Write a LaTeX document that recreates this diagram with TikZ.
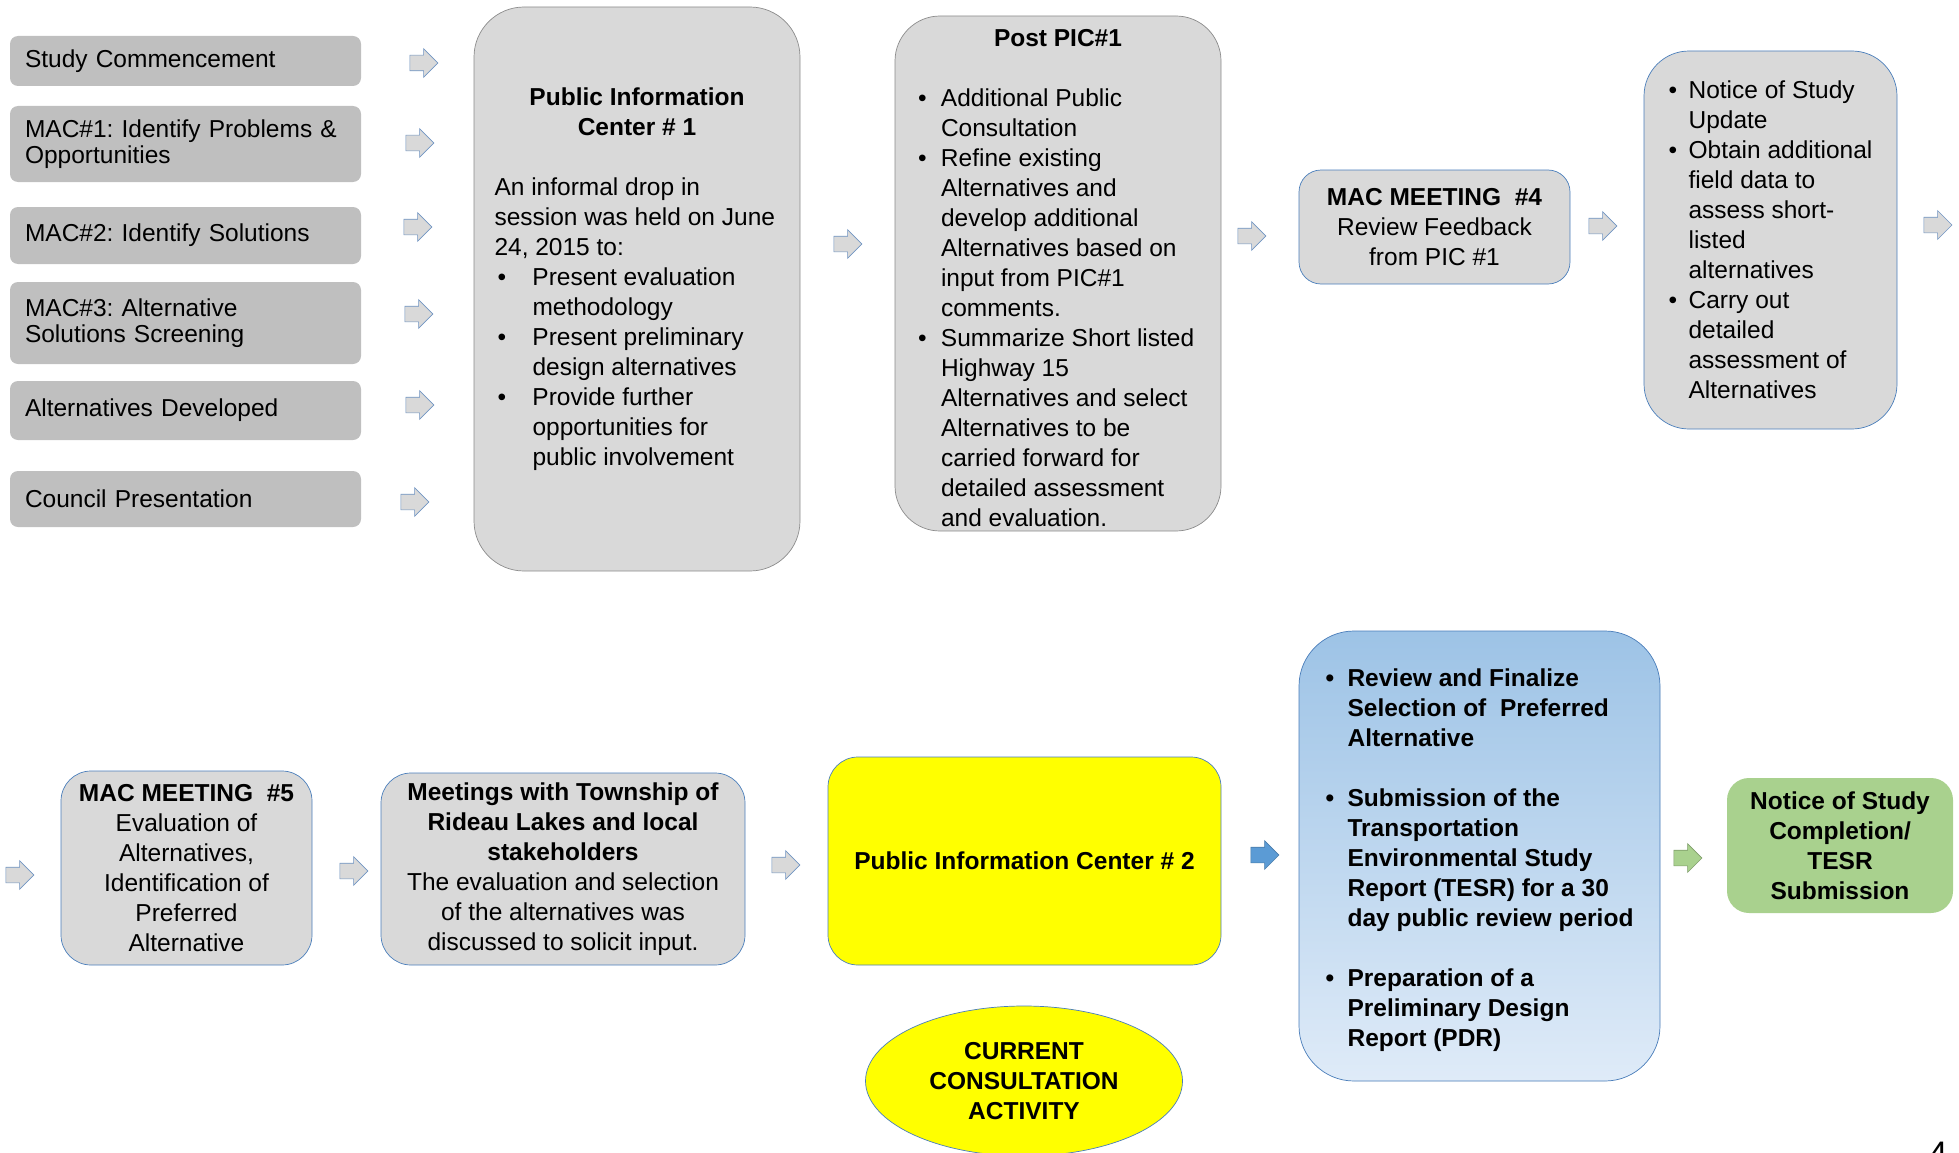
\documentclass[tikz,border=0pt]{standalone}
\usepackage{fontspec}
\setmainfont{Liberation Sans}
\usepackage{xcolor}
\usetikzlibrary{shapes,arrows,positioning,calc}
\frenchspacing

\definecolor{boxgray}{HTML}{D9D9D9}
\definecolor{stagegray}{HTML}{BFBFBF}
\definecolor{edgegray}{HTML}{8C8C8C}
\definecolor{edgeblue}{HTML}{4A7EBB}
\definecolor{arrowedge}{HTML}{7094C2}
\definecolor{picyellow}{HTML}{FFFF00}
\definecolor{shadetop}{HTML}{9DC3E6}
\definecolor{shadebot}{HTML}{DFEBF8}
\definecolor{arrowblue}{HTML}{5B9BD5}
\definecolor{tesrgreen}{HTML}{A9D18E}

% bullet with a hanging gap, and the matching indent for follow-on lines
\newcommand{\bul}[1]{\makebox[#1][l]{\textbullet}}
\newcommand{\ind}[1]{\hspace*{#1}}

\begin{document}
\begin{tikzpicture}[x=1pt, y=-1pt]
\tikzset{
stage/.style    = {fill=stagegray, rounded corners=8pt, minimum width=351pt, text width=321pt, inner xsep=15pt, inner ysep=0pt, align=left, font=\fontsize{24.5}{25.5}\selectfont},
block/.style    = {draw, fill=boxgray, line width=0.7pt, align=center, inner sep=0pt, font=\fontsize{24.5}{30}\selectfont},
grayblock/.style= {block, draw=edgegray},
blueblock/.style= {block, draw=edgeblue},
arr/.style      = {single arrow, draw=arrowedge, fill=boxgray, line width=0.6pt, inner xsep=0pt, inner ysep=7.5pt, minimum height=28pt, single arrow head extend=6.5pt},
}
\useasboundingbox (0,0) rectangle (1959,1153);
\clip (0,0) rectangle (1959,1153);

    % Stage nodes
    \node [stage, minimum height=50pt] (study)   at (185.5,61)  {Study Commencement};
    \node [stage, minimum height=76pt] (mac_one) at (185.5,144) {MAC\#1: Identify Problems \&\\Opportunities};
    \node [stage, minimum height=57pt] (mac_two) at (185.5,235.5) {MAC\#2: Identify Solutions};
    \node [stage, minimum height=82pt] (mac_three) at (185.5,323) {MAC\#3: Alternative\\Solutions Screening};
    \node [stage, minimum height=59pt] (alt_dev) at (185.5,410.5) {Alternatives Developed};
    \node [stage, minimum height=56pt] (council) at (185.5,499) {Council Presentation};

    % Stage arrows
    \node [arr] (a_study)     at (420,63)  {};
    \node [arr] (a_mac_one)   at (416,143) {};
    \node [arr] (a_mac_two)   at (414,227) {};
    \node [arr] (a_mac_three) at (415,314) {};
    \node [arr] (a_alt_dev)   at (416,405) {};
    \node [arr] (a_council)   at (411,502) {};

    % Top row nodes
    \node [grayblock, rounded corners=50pt, minimum width=326pt, minimum height=564pt, align=left] (pic_one) at (637,289)
        {\rule{0pt}{23pt}\makebox[285pt][c]{\bfseries Public Information}\\
         \makebox[285pt][c]{\bfseries Center \# 1}\\[30pt]
         An informal drop in\\
         session was held on June\\
         24, 2015 to:\\
         \makebox[38pt][l]{\hspace{3pt}\textbullet}Present evaluation\\
         \ind{38pt}methodology\\
         \makebox[38pt][l]{\hspace{3pt}\textbullet}Present preliminary\\
         \ind{38pt}design alternatives\\
         \makebox[38pt][l]{\hspace{3pt}\textbullet}Provide further\\
         \ind{38pt}opportunities for\\
         \ind{38pt}public involvement\\
         \mbox{}};
    \node [arr] (a_pic_one) at (844,244) {};

    \node [grayblock, rounded corners=45pt, minimum width=326pt, minimum height=515pt, align=left] (post_pic) at (1058,273.5)
        {\rule{0pt}{26pt}\makebox[280pt][c]{\bfseries Post PIC\#1}\\[30pt]
         \bul{23pt}Additional Public\\
         \ind{23pt}Consultation\\
         \bul{23pt}Refine existing\\
         \ind{23pt}Alternatives and\\
         \ind{23pt}develop additional\\
         \ind{23pt}Alternatives based on\\
         \ind{23pt}input from PIC\#1\\
         \ind{23pt}comments.\\
         \bul{23pt}Summarize Short listed\\
         \ind{23pt}Highway 15\\
         \ind{23pt}Alternatives and select\\
         \ind{23pt}Alternatives to be\\
         \ind{23pt}carried forward for\\
         \ind{23pt}detailed assessment\\
         \ind{23pt}and evaluation.};
    \node [arr] (a_post_pic) at (1248,236) {};

    \node [blueblock, rounded corners=22pt, minimum width=271pt, minimum height=114pt] (mac_four) at (1434.5,227)
        {\textbf{MAC MEETING\ \ \#4}\\Review Feedback\\from PIC \#1};
    \node [arr] (a_mac_four) at (1599,226) {};

    \node [blueblock, rounded corners=45pt, minimum width=253pt, minimum height=378pt, align=left] (update) at (1770.5,240)
        {\bul{20pt}Notice of Study\\
         \ind{20pt}Update\\
         \bul{20pt}Obtain additional\\
         \ind{20pt}field data to\\
         \ind{20pt}assess short-\\
         \ind{20pt}listed\\
         \ind{20pt}alternatives\\
         \bul{20pt}Carry out\\
         \ind{20pt}detailed\\
         \ind{20pt}assessment of\\
         \ind{20pt}Alternatives};
    \node [arr] (a_update) at (1934,225) {};

    % Bottom row nodes
    \node [arr] (a_start) at (16,875) {};
    \node [blueblock, rounded corners=30pt, minimum width=251pt, minimum height=194pt] (mac_five) at (186.5,868)
        {\textbf{MAC MEETING\ \ \#5}\\Evaluation of\\Alternatives,\\Identification of\\Preferred\\Alternative};
    \node [arr] (a_mac_five) at (350,871) {};

    \node [blueblock, rounded corners=30pt, minimum width=364pt, minimum height=192pt] (meetings) at (563,869)
        {\textbf{Meetings with Township of}\\\textbf{Rideau Lakes and local}\\\textbf{stakeholders}\\
         The evaluation and selection\\of the alternatives was\\discussed to solicit input.};
    \node [arr] (a_meetings) at (782,865) {};

    \node [blueblock, fill=picyellow, rounded corners=30pt, minimum width=393pt, minimum height=208pt, font=\fontsize{24.5}{30}\selectfont\bfseries] (pic_two) at (1024.5,861)
        {Public Information Center \# 2};
    \node [ellipse, draw=edgeblue, fill=picyellow, line width=0.7pt, inner sep=0pt, minimum width=317pt, minimum height=150pt, align=center, font=\fontsize{24.5}{30}\selectfont\bfseries] (current) at (1024,1081)
        {CURRENT\\CONSULTATION\\ACTIVITY};
    \node [arr, fill=arrowblue, draw=arrowblue!80!black] (a_pic_two) at (1261,855) {};

    \node [blueblock, top color=shadetop, bottom color=shadebot, rounded corners=55pt, minimum width=361pt, minimum height=450pt, align=left, font=\fontsize{24.5}{30}\selectfont\bfseries] (finalize) at (1479.5,856)
        {\rule{0pt}{27pt}\bul{22pt}Review and Finalize\\
         \ind{22pt}Selection of\ \ Preferred\\
         \ind{22pt}Alternative\\[30pt]
         \bul{22pt}Submission of the\\
         \ind{22pt}Transportation\\
         \ind{22pt}Environmental Study\\
         \ind{22pt}Report (TESR) for a 30\\
         \ind{22pt}day public review period\\[30pt]
         \bul{22pt}Preparation of a\\
         \ind{22pt}Preliminary Design\\
         \ind{22pt}Report (PDR)};
    \node [arr, fill=tesrgreen, draw=tesrgreen!75!black] (a_finalize) at (1684,858) {};

    \node [block, draw=none, fill=tesrgreen, rounded corners=22pt, minimum width=226pt, minimum height=135pt, font=\fontsize{24.5}{30}\selectfont\bfseries] (completion) at (1840,845.5)
        {Notice of Study\\Completion/\\TESR\\Submission};

    % Page number
    \node [font=\fontsize{34}{34}\selectfont] (pagenum) at (1938,1154) {4};

\end{tikzpicture}
\end{document}
